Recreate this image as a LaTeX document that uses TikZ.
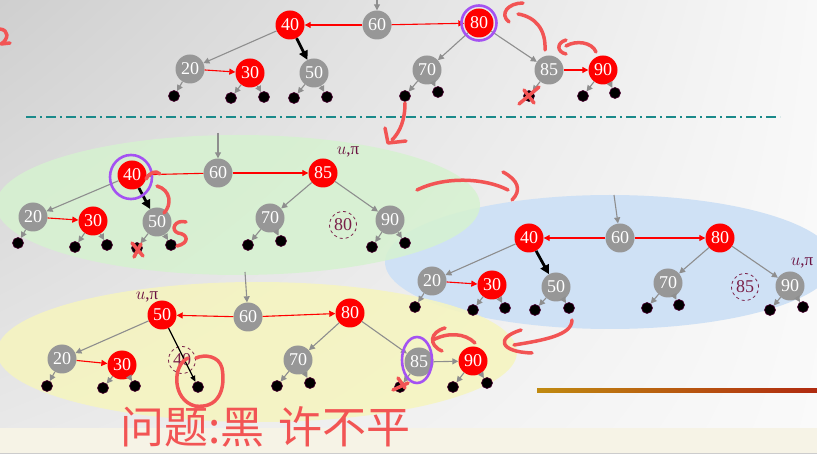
\documentclass[tikz,border=0pt]{standalone}
\usepackage{fontspec}
\setmainfont{Liberation Serif}
\newfontfamily\cjk{Noto Sans CJK SC}
\usetikzlibrary{arrows.meta,calc,shadings}
\definecolor{nodegray}{HTML}{979797}
\definecolor{nodered}{HTML}{FF0000}
\definecolor{handred}{HTML}{F25454}
\definecolor{purp}{HTML}{A452F2}
\definecolor{ghostc}{HTML}{7A2048}
\definecolor{labelc}{HTML}{6A1040}
\definecolor{leafedge}{HTML}{4A0030}
\definecolor{arrgray}{HTML}{8E8E8E}
\definecolor{greenfill}{HTML}{D6F2D0}
\definecolor{bluefill}{HTML}{CFE1F5}
\definecolor{yellowfill}{HTML}{F6F5BE}
\definecolor{cream}{HTML}{F6F3E6}
\definecolor{teal}{HTML}{1A8A8A}
\definecolor{bgUL}{HTML}{CFCFCF}
\definecolor{bgUR}{HTML}{F8F8F8}
\definecolor{bgLL}{HTML}{EAEAEA}
\definecolor{bgLR}{HTML}{FAFAFA}
\definecolor{barA}{HTML}{C08A10}
\definecolor{barB}{HTML}{A03010}
\definecolor{barC}{HTML}{B02A10}
\tikzset{
  gnode/.style={circle, fill=nodegray, text=white, minimum size=29pt, inner sep=0pt, font=\fontsize{18}{18}\selectfont},
  rnode/.style={gnode, fill=nodered},
  ghost/.style={circle, draw=ghostc, dashed, line width=0.8pt, text=ghostc, minimum size=27pt, inner sep=0pt, font=\fontsize{18}{18}\selectfont},
  leaf/.style={circle, fill=black, draw=leafedge, line width=0.6pt, minimum size=11pt, inner sep=0pt},
  garr/.style={draw=arrgray, line width=1.1pt, -{Triangle[length=6pt,width=6pt]}},
  rarr/.style={draw=nodered, line width=1.1pt, -{Triangle[length=6pt,width=6pt]}},
  barr/.style={draw=black, line width=2.8pt, -{Triangle[length=9pt,width=9pt]}},
  tarr/.style={draw=black, line width=1.3pt, -{Triangle[length=6pt,width=5pt]}},
  hand/.style={draw=handred, line width=3.5pt, line cap=round, line join=round},
  purpring/.style={draw=purp, line width=2.6pt},
  ulabel/.style={text=labelc, font=\fontsize{17}{17}\selectfont},
}
\begin{document}
\begin{tikzpicture}[x=1pt,y=-1pt]
\useasboundingbox (0,0) rectangle (817,454);
% background
\shade[upper left=bgUL, upper right=bgUR, lower left=bgLL, lower right=bgLR] (0,0) rectangle (817,454);
\fill[cream] (0,428) rectangle (817,454);
\draw[gray!40, line width=1pt] (0,453.5) -- (817,453.5);
\shade[left color=barA, middle color=barB, right color=barC] (537,389) rectangle (817,393);
% dash-dot separator
\draw[teal, line width=2.2pt, dash pattern=on 10pt off 4pt on 2pt off 4pt] (26,117) -- (780,117);
% ellipses
\fill[bluefill] (610,262) ellipse [x radius=225, y radius=67];
\fill[greenfill, opacity=0.85] (238,205) ellipse [x radius=242, y radius=70];
\fill[yellowfill, opacity=0.85] (257,352) ellipse [x radius=260, y radius=70];

% ================= top tree =================
\coordinate (atop) at (377,0);
\node[gnode] (a60) at (377,25) {60};
\node[rnode] (a40) at (290,25) {40};
\node[rnode] (a80) at (479,23) {80};
\node[gnode] (a20) at (190,69) {20};
\node[rnode] (a30) at (250,73) {30};
\node[gnode] (a50) at (314,73) {50};
\node[gnode] (a70) at (427,70) {70};
\node[gnode] (a85) at (549,70) {85};
\node[rnode] (a90) at (603,70) {90};
\node[leaf] (al1) at (174,96) {};
\node[leaf] (al2) at (231,98) {};
\node[leaf] (al3) at (264,97) {};
\node[leaf] (al4) at (294,98) {};
\node[leaf] (al5) at (327,97) {};
\node[leaf] (al6) at (405,96) {};
\node[leaf] (al7) at (438,92) {};
\node[leaf] (al8) at (529,96) {};
\node[leaf] (al9) at (583,96) {};
\node[leaf] (al10) at (615,93) {};
\draw[garr] (atop) -- (a60);
\draw[rarr] (a60) -- (a40);
\draw[rarr] (a60) -- (a80);
\draw[garr] (a40) -- (a20);
\draw[barr] (a40) -- (a50);
\draw[rarr] (a20) -- (a30);
\draw[garr] (a80) -- (a70);
\draw[garr] (a80) -- (a85);
\draw[rarr] (a85) -- (a90);
\draw[garr] (a20) -- (al1);
\draw[garr] (a30) -- (al2);
\draw[garr] (a30) -- (al3);
\draw[garr] (a50) -- (al4);
\draw[garr] (a50) -- (al5);
\draw[garr] (a70) -- (al6);
\draw[garr] (a70) -- (al7);
\draw[garr] (a85) -- (al8);
\draw[garr] (a90) -- (al9);
\draw[garr] (a90) -- (al10);

% ================= green tree =================
\coordinate (btop) at (218,133);
\node[gnode] (b60) at (218,173) {60};
\node[rnode] (b40) at (132,175) {40};
\node[rnode] (b85) at (323,173) {85};
\node[gnode] (b20) at (33,217) {20};
\node[rnode] (b30) at (93,221) {30};
\node[gnode] (b50) at (157,222) {50};
\node[gnode] (b70) at (270,218) {70};
\node[ghost] (b80) at (343,225) {80};
\node[gnode] (b90) at (390,220) {90};
\node[ulabel] (bu) at (348,152) {$u$,π};
\node[leaf] (bl1) at (18,243) {};
\node[leaf] (bl2) at (75,247) {};
\node[leaf] (bl3) at (107,245) {};
\node[leaf] (bl4) at (137,248) {};
\node[leaf] (bl5) at (171,245) {};
\node[leaf] (bl6) at (248,245) {};
\node[leaf] (bl7) at (281,241) {};
\node[leaf] (bl8) at (372,247) {};
\node[leaf] (bl9) at (405,243) {};
\draw[garr] (btop) -- (b60);
\draw[rarr] (b60) -- (b40);
\draw[rarr] (b60) -- (b85);
\draw[garr] (b40) -- (b20);
\draw[barr] (b40) -- (b50);
\draw[rarr] (b20) -- (b30);
\draw[garr] (b85) -- (b70);
\draw[garr] (b85) -- (b90);
\draw[garr] (b20) -- (bl1);
\draw[garr] (b30) -- (bl2);
\draw[garr] (b30) -- (bl3);
\draw[garr] (b50) -- (bl4);
\draw[garr] (b50) -- (bl5);
\draw[garr] (b70) -- (bl6);
\draw[garr] (b70) -- (bl7);
\draw[garr] (b90) -- (bl8);
\draw[garr] (b90) -- (bl9);

% ================= blue tree =================
\coordinate (ctop) at (614,195);
\node[gnode] (c60) at (620,238) {60};
\node[rnode] (c40) at (529,238) {40};
\node[rnode] (c80) at (720,238) {80};
\node[gnode] (c20) at (432,281) {20};
\node[rnode] (c30) at (492,285) {30};
\node[gnode] (c50) at (556,287) {50};
\node[gnode] (c70) at (668,283) {70};
\node[ghost] (c85) at (745,287) {85};
\node[gnode] (c90) at (790,286) {90};
\node[ulabel] (cu) at (802,263) {$u$,π};
\node[leaf] (cl1) at (415,307) {};
\node[leaf] (cl2) at (473,310) {};
\node[leaf] (cl3) at (505,308) {};
\node[leaf] (cl4) at (535,310) {};
\node[leaf] (cl5) at (569,308) {};
\node[leaf] (cl6) at (647,308) {};
\node[leaf] (cl7) at (679,305) {};
\node[leaf] (cl8) at (770,310) {};
\node[leaf] (cl9) at (803,307) {};
\draw[garr] (ctop) -- (c60);
\draw[rarr] (c60) -- (c40);
\draw[rarr] (c60) -- (c80);
\draw[garr] (c40) -- (c20);
\draw[barr] (c40) -- (c50);
\draw[rarr] (c20) -- (c30);
\draw[garr] (c80) -- (c70);
\draw[garr] (c80) -- (c90);
\draw[garr] (c20) -- (cl1);
\draw[garr] (c30) -- (cl2);
\draw[garr] (c30) -- (cl3);
\draw[garr] (c50) -- (cl4);
\draw[garr] (c50) -- (cl5);
\draw[garr] (c70) -- (cl6);
\draw[garr] (c70) -- (cl7);
\draw[garr] (c90) -- (cl8);
\draw[garr] (c90) -- (cl9);

% ================= yellow tree =================
\coordinate (dtop) at (245,272);
\node[gnode] (d60) at (248,317) {60};
\node[rnode] (d50) at (162,315) {50};
\node[rnode] (d80) at (350,313) {80};
\node[gnode] (d20) at (62,359) {20};
\node[rnode] (d30) at (122,365) {30};
\node[ghost] (d40) at (182,360) {40};
\node[gnode] (d70) at (298,360) {70};
\node[gnode] (d85) at (419,362) {85};
\node[rnode] (d90) at (473,361) {90};
\node[ulabel] (du) at (147,297) {$u$,π};
\node[leaf] (dl1) at (47,386) {};
\node[leaf] (dl2) at (103,388) {};
\node[leaf] (dl3) at (135,386) {};
\node[leaf] (dl4) at (198,387) {};
\node[leaf] (dl5) at (277,386) {};
\node[leaf] (dl6) at (310,383) {};
\node[leaf] (dl7) at (400,387) {};
\node[leaf] (dl8) at (453,387) {};
\node[leaf] (dl9) at (487,383) {};
\draw[garr] (dtop) -- (d60);
\draw[rarr] (d60) -- (d50);
\draw[rarr] (d60) -- (d80);
\draw[garr] (d50) -- (d20);
\draw[tarr] (d50) -- (dl4);
\draw[rarr] (d20) -- (d30);
\draw[garr] (d80) -- (d70);
\draw[garr] (d80) -- (d85);
\draw[garr] (d85) -- (d90);
\draw[garr] (d20) -- (dl1);
\draw[garr] (d30) -- (dl2);
\draw[garr] (d30) -- (dl3);
\draw[garr] (d70) -- (dl5);
\draw[garr] (d70) -- (dl6);
\draw[garr] (d85) -- (dl7);
\draw[garr] (d90) -- (dl8);
\draw[garr] (d90) -- (dl9);

% ================= purple rings =================
\draw[purpring] (a80) circle [radius=17.5];
\draw[purpring] (131,177) ellipse [x radius=21, y radius=22];
\draw[purpring] (417,360) ellipse [x radius=15, y radius=23];

% ================= handwriting =================
\draw[hand] (0,29) .. controls (9,30) and (9,39) .. (1,44) -- (10,43);
% near top 80/85
\draw[hand] (518,14) .. controls (536,17) and (546,30) .. (545,50);
\draw[hand] (509,22) .. controls (499,14) and (508,3) .. (523,3);
% near top 85/90
\draw[hand] (596,52) .. controls (592,42) and (576,40) .. (566,46);
\draw[hand] (566,40) .. controls (556,43) and (557,52) .. (566,54);
% X on top leaf
\draw[hand] (519,104) -- (539,87);
\draw[hand] (524,90) -- (534,103);
% arrow down
\draw[hand] (405,103) .. controls (405,120) and (400,132) .. (392,140);
\draw[hand] (385,128) -- (388,143) -- (406,141);
% curved arrow to blue
\draw[hand] (417,190) .. controls (445,176) and (485,178) .. (508,190);
\draw[hand] (503,172) .. controls (518,180) and (522,190) .. (512,200);
% green annotations
\draw[hand] (146,179) .. controls (150,172) and (156,170) .. (160,174);
\draw[hand] (157,186) .. controls (171,190) and (172,205) .. (164,213);
\draw[hand] (186,222) .. controls (175,219) and (170,230) .. (178,233) .. controls (188,234) and (190,243) .. (177,246);
\draw[hand] (132,243) -- (143,256);
\draw[hand] (141,244) -- (134,257);
% blue bottom arrow
\draw[hand] (572,320) .. controls (572,335) and (545,340) .. (514,345);
\draw[hand] (521,330) .. controls (495,338) and (500,352) .. (532,353);
% yellow 85 arrow
\draw[hand] (475,343) .. controls (465,333) and (448,332) .. (433,340);
\draw[hand] (445,328) .. controls (430,332) and (428,345) .. (442,351);
\draw[hand] (393,390) -- (408,383);
\draw[hand] (398,378) -- (405,388);
% circle around leaf
\draw[hand] (188,358) .. controls (172,365) and (172,400) .. (195,406) .. controls (218,409) and (226,390) .. (222,368) .. controls (219,356) and (205,354) .. (196,358);
% text
\node[text=handred, font=\cjk\fontsize{44}{44}\selectfont, anchor=west, inner sep=0pt] (note) at (120,427) {问题:黑\hspace{14pt}许不平};
\end{tikzpicture}
\end{document}
